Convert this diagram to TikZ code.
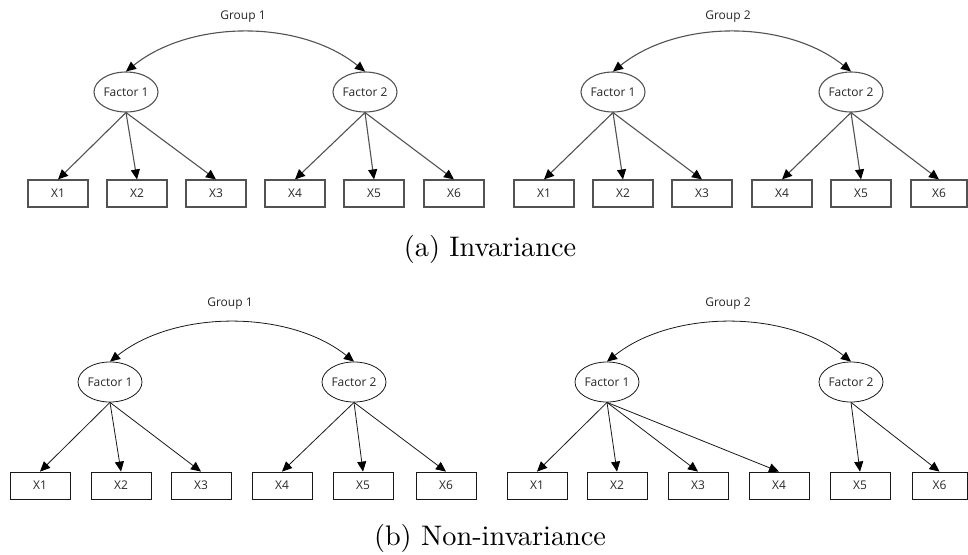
\documentclass[tikz,border=0pt]{standalone}
\usepackage{fontspec}
\newfontfamily\diagfont{Open Sans}
\newfontfamily\capfont{lmroman10-regular}[Extension=.otf]
\usetikzlibrary{shapes.geometric,arrows.meta}
\begin{document}
\begin{tikzpicture}[x=1pt,y=-1pt,
 lbl/.style={font=\diagfont\fontsize{12}{14}\selectfont, text=black!85},
 fac/.style={lbl, ellipse, draw, minimum width=64pt, minimum height=40pt, inner sep=0pt},
 obs/.style={lbl, rectangle, draw, minimum width=60pt, minimum height=27pt, inner sep=0pt},
 capt/.style={font=\capfont\fontsize{28.3}{32}\selectfont, inner sep=0pt},
 tip/.style={-{Triangle[length=10pt,width=9pt,color=black]}},
 cov/.style={{Triangle[length=10pt,width=9pt,color=black]}-{Triangle[length=10pt,width=9pt,color=black]}},
 pa/.style={draw=black!68, line width=1.1pt},
 pb/.style={draw=black!90, line width=0.8pt}
]
\useasboundingbox (0,0) rectangle (968,554);

% ---------- (a) left ----------
\node[lbl] (aLg) at (243,17) {Group 1};
\node[fac,pa] (aLf1) at (126,92) {Factor 1};
\node[fac,pa] (aLf2) at (365,92) {Factor 2};
\foreach \n/\x in {1/58,2/137,3/216,4/295,5/374,6/454}
  \node[obs,pa] (aL\n) at (\x,193.5) {X\n};
\foreach \n in {1,2,3} \draw[pa,tip] (aLf1.south) -- (aL\n.north);
\foreach \n in {4,5,6} \draw[pa,tip] (aLf2.south) -- (aL\n.north);
\draw[pa,cov] (aLf1.north) .. controls +(65,-52) and +(-65,-52) .. (aLf2.north);

% ---------- (a) right ----------
\node[lbl] (aRg) at (728,17) {Group 2};
\node[fac,pa] (aRf1) at (613,92) {Factor 1};
\node[fac,pa] (aRf2) at (851,92) {Factor 2};
\foreach \n/\x in {1/544,2/623,3/702,4/782,5/861}
  \node[obs,pa] (aR\n) at (\x,193.5) {X\n};
\node[obs,pa,minimum width=56pt] (aR6) at (939,193.5) {X6};
\foreach \n in {1,2,3} \draw[pa,tip] (aRf1.south) -- (aR\n.north);
\foreach \n in {4,5,6} \draw[pa,tip] (aRf2.south) -- (aR\n.north);
\draw[pa,cov] (aRf1.north) .. controls +(65,-52) and +(-65,-52) .. (aRf2.north);

\node[capt] (capa) at (490,249) {(a) Invariance};

% ---------- (b) left ----------
\node[lbl] (bLg) at (230,304) {Group 1};
\node[fac,pb] (bLf1) at (110,382) {Factor 1};
\node[fac,pb] (bLf2) at (354,382) {Factor 2};
\foreach \n/\x in {1/40,2/121,3/201,4/282,5/363,6/446}
  \node[obs,pb] (bL\n) at (\x,485.5) {X\n};
\foreach \n in {1,2,3} \draw[pb,tip] (bLf1.south) -- (bL\n.north);
\foreach \n in {4,5,6} \draw[pb,tip] (bLf2.south) -- (bL\n.north);
\draw[pb,cov] (bLf1.north) .. controls +(65,-52) and +(-65,-52) .. (bLf2.north);

% ---------- (b) right ----------
\node[lbl] (bRg) at (728,304) {Group 2};
\node[fac,pb] (bRf1) at (607,382) {Factor 1};
\node[fac,pb] (bRf2) at (851,382) {Factor 2};
\foreach \n/\x in {1/537,2/617,3/698,4/779,5/860}
  \node[obs,pb] (bR\n) at (\x,485.5) {X\n};
\node[obs,pb,minimum width=55pt] (bR6) at (939.5,485.5) {X6};
\foreach \n in {1,2,3,4} \draw[pb,tip] (bRf1.south) -- (bR\n.north);
\foreach \n in {5,6} \draw[pb,tip] (bRf2.south) -- (bR\n.north);
\draw[pb,cov] (bRf1.north) .. controls +(65,-52) and +(-65,-52) .. (bRf2.north);

\node[capt] (capb) at (490,538) {(b) Non-invariance};
\end{tikzpicture}
\end{document}
